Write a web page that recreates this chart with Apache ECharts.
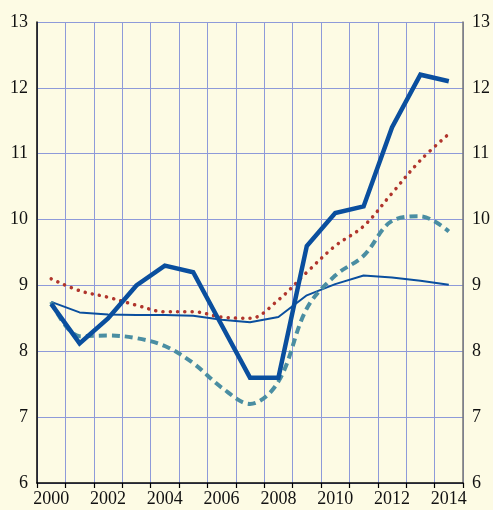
<!DOCTYPE html>
<html>
<head>
<meta charset="utf-8">
<script src="https://cdn.jsdelivr.net/npm/echarts@6/dist/echarts.min.js"></script>
<style>
  html, body { margin: 0; padding: 0; background: #fdfbe4; }
  #chart { width: 493px; height: 510px; }
</style>
</head>
<body>
<div id="chart"></div>
<script>
// Years on the horizontal axis
const years = ['2000','2001','2002','2003','2004','2005','2006','2007','2008','2009','2010','2011','2012','2013','2014'];

// Heavy solid blue series
const seriesThick = [8.72, 8.12, 8.5, 9.0, 9.3, 9.2, 8.4, 7.6, 7.6, 9.6, 10.1, 10.2, 11.4, 12.2, 12.1];
// Thin solid blue series
const seriesThin = [8.75, 8.59, 8.56, 8.55, 8.55, 8.54, 8.48, 8.44, 8.52, 8.85, 9.02, 9.15, 9.12, 9.07, 9.01];
// Red dotted series
const seriesDotted = [9.1, 8.92, 8.82, 8.7, 8.6, 8.6, 8.52, 8.5, 8.78, 9.2, 9.6, 9.9, 10.4, 10.9, 11.3];
// Teal dashed series
const seriesDashed = [8.75, 8.23, 8.24, 8.2, 8.08, 7.82, 7.45, 7.2, 7.54, 8.65, 9.15, 9.45, 9.98, 10.05, 9.82];

// Value axis range
const yMin = 6, yMax = 13, yStep = 1;

const font = '"Liberation Serif", "DejaVu Serif", serif';
const gridColor = '#8e9ad9';

const chart = echarts.init(document.getElementById('chart'), null, { renderer: 'canvas' });
chart.setOption({
  backgroundColor: '#fdfbe4',
  animation: false,
  grid: { left: 37, right: 26, top: 22, bottom: 27 },
  xAxis: {
    type: 'category',
    data: years,
    boundaryGap: true,
    axisLine: { show: true, lineStyle: { color: '#000', width: 1.5 } },
    axisTick: { show: true, interval: 0, length: 5, lineStyle: { color: '#000', width: 1.2 } },
    axisLabel: { interval: 1, color: '#111', fontFamily: font, fontSize: 18, margin: 7 },
    splitLine: { show: true, interval: 0, lineStyle: { color: gridColor, width: 1, opacity: 1 } }
  },
  yAxis: [
    {
      type: 'value', min: yMin, max: yMax, interval: yStep, position: 'left',
      axisLine: { show: true, lineStyle: { color: '#000', width: 1.5 } },
      axisTick: { show: false },
      axisLabel: { color: '#111', fontFamily: font, fontSize: 18, margin: 9 },
      splitLine: { show: false }
    },
    {
      type: 'value', min: yMin, max: yMax, interval: yStep, position: 'right',
      axisLine: { show: true, lineStyle: { color: '#777', width: 1.5 } },
      axisTick: { show: false },
      axisLabel: { color: '#111', fontFamily: font, fontSize: 18, margin: 9 },
      splitLine: { show: true, lineStyle: { color: gridColor, width: 1, opacity: 1, type: 'solid' } }
    }
  ],
  series: [
    {
      type: 'line', data: seriesThin, symbol: 'none', z: 3,
      lineStyle: { color: '#0a4f9e', width: 2 }
    },
    {
      type: 'line', data: seriesDashed, symbol: 'none', smooth: 0.35, z: 4,
      lineStyle: { color: '#4a8ea2', width: 4, type: [8, 5] }
    },
    {
      type: 'line', data: seriesDotted, symbol: 'none', smooth: 0.35, z: 5,
      lineStyle: { color: '#b0352c', width: 3.5, type: [0.1, 7.2], cap: 'round' }
    },
    {
      type: 'line', data: seriesThick, symbol: 'none', z: 6,
      lineStyle: { color: '#0a4f9e', width: 4.5, join: 'miter' }
    }
  ]
});
</script>
</body>
</html>
